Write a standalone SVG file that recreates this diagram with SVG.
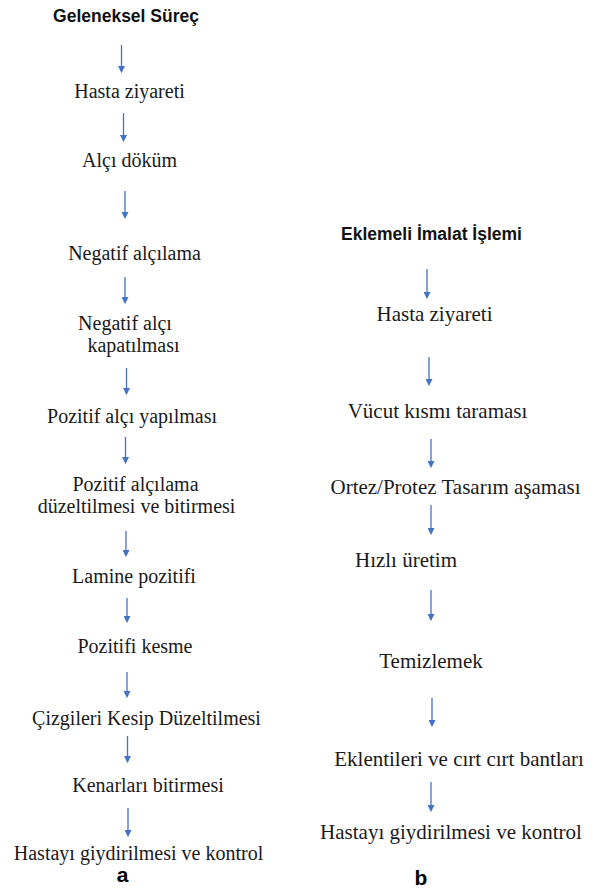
<svg xmlns="http://www.w3.org/2000/svg" width="599" height="890" viewBox="0 0 599 890">
<defs>
<marker id="ah" viewBox="0 0 10 10" refX="7" refY="5" markerWidth="7" markerHeight="7" markerUnits="userSpaceOnUse" orient="auto">
<path d="M0,0 L10,5 L0,10 z" fill="#4472C4"/>
</marker>
<style>
.h{font-family:'Liberation Sans',Arial,sans-serif;font-weight:bold;font-size:17.5px;fill:#111;text-anchor:middle}
.lab{font-family:'Liberation Sans',Arial,sans-serif;font-weight:bold;font-size:21px;fill:#000;text-anchor:middle}
.c line{stroke:#4472C4;stroke-width:1.3;marker-end:url(#ah)}
</style>
</defs>
<rect width="599" height="890" fill="#fff"/>
<g id="title-a"><text class="h" x="126" y="22">Geleneksel Süreç</text></g>
<g id="left-steps" font-family="Liberation Serif" font-size="20" fill="#1a1a1a" text-anchor="middle">
<g id="a1"><text x="129.5" y="98">Hasta ziyareti</text></g>
<g id="a2"><text x="129.5" y="167">Alçı döküm</text></g>
<g id="a3"><text x="134.5" y="260">Negatif alçılama</text></g>
<g id="a4"><text x="125" y="330">Negatif alçı</text><text x="133.5" y="352">kapatılması</text></g>
<g id="a5"><text x="132" y="423">Pozitif alçı yapılması</text></g>
<g id="a6"><text x="135.5" y="491">Pozitif alçılama</text><text x="136.5" y="513">düzeltilmesi ve bitirmesi</text></g>
<g id="a7"><text x="134" y="583">Lamine pozitifi</text></g>
<g id="a8"><text x="135" y="653">Pozitifi kesme</text></g>
<g id="a9"><text x="146.5" y="725">Çizgileri Kesip Düzeltilmesi</text></g>
<g id="a10"><text x="148" y="792">Kenarları bitirmesi</text></g>
<g id="a11"><text x="138.5" y="860">Hastayı giydirilmesi ve kontrol</text></g>
</g>
<g id="label-a"><text class="lab" x="122.5" y="882">a</text></g>

<g id="title-b"><text class="h" x="431.5" y="240">Eklemeli İmalat İşlemi</text></g>
<g id="right-steps" font-family="Liberation Serif" font-size="21" fill="#1a1a1a" text-anchor="middle">
<g id="b1"><text x="434.5" y="321">Hasta ziyareti</text></g>
<g id="b2"><text x="437.5" y="418">Vücut kısmı taraması</text></g>
<g id="b3"><text x="455.5" y="494">Ortez/Protez Tasarım aşaması</text></g>
<g id="b4"><text x="406" y="567">Hızlı üretim</text></g>
<g id="b5"><text x="431" y="668">Temizlemek</text></g>
<g id="b6"><text x="459" y="766">Eklentileri ve cırt cırt bantları</text></g>
<g id="b7"><text x="451" y="839">Hastayı giydirilmesi ve kontrol</text></g>
</g>
<g id="label-b"><text class="lab" x="421" y="885">b</text></g>

<g id="connectors" class="c">
<line x1="121.5" y1="45" x2="121.5" y2="71"/>
<line x1="123.5" y1="113" x2="123.5" y2="140"/>
<line x1="125" y1="191" x2="125" y2="217"/>
<line x1="125" y1="277" x2="125" y2="302"/>
<line x1="126.5" y1="368" x2="126.5" y2="393"/>
<line x1="125.5" y1="437" x2="125.5" y2="462"/>
<line x1="126" y1="531" x2="126" y2="555"/>
<line x1="127" y1="598" x2="127" y2="621"/>
<line x1="127" y1="672" x2="127" y2="696"/>
<line x1="127.5" y1="736" x2="127.5" y2="761"/>
<line x1="128" y1="808" x2="128" y2="835"/>
<line x1="427" y1="269" x2="427" y2="297"/>
<line x1="429" y1="357" x2="429" y2="384"/>
<line x1="431" y1="439" x2="431" y2="466"/>
<line x1="431" y1="505" x2="431" y2="533"/>
<line x1="431" y1="590" x2="431" y2="619"/>
<line x1="432" y1="698" x2="432" y2="725"/>
<line x1="431" y1="782" x2="431" y2="810"/>
</g>
</svg>
